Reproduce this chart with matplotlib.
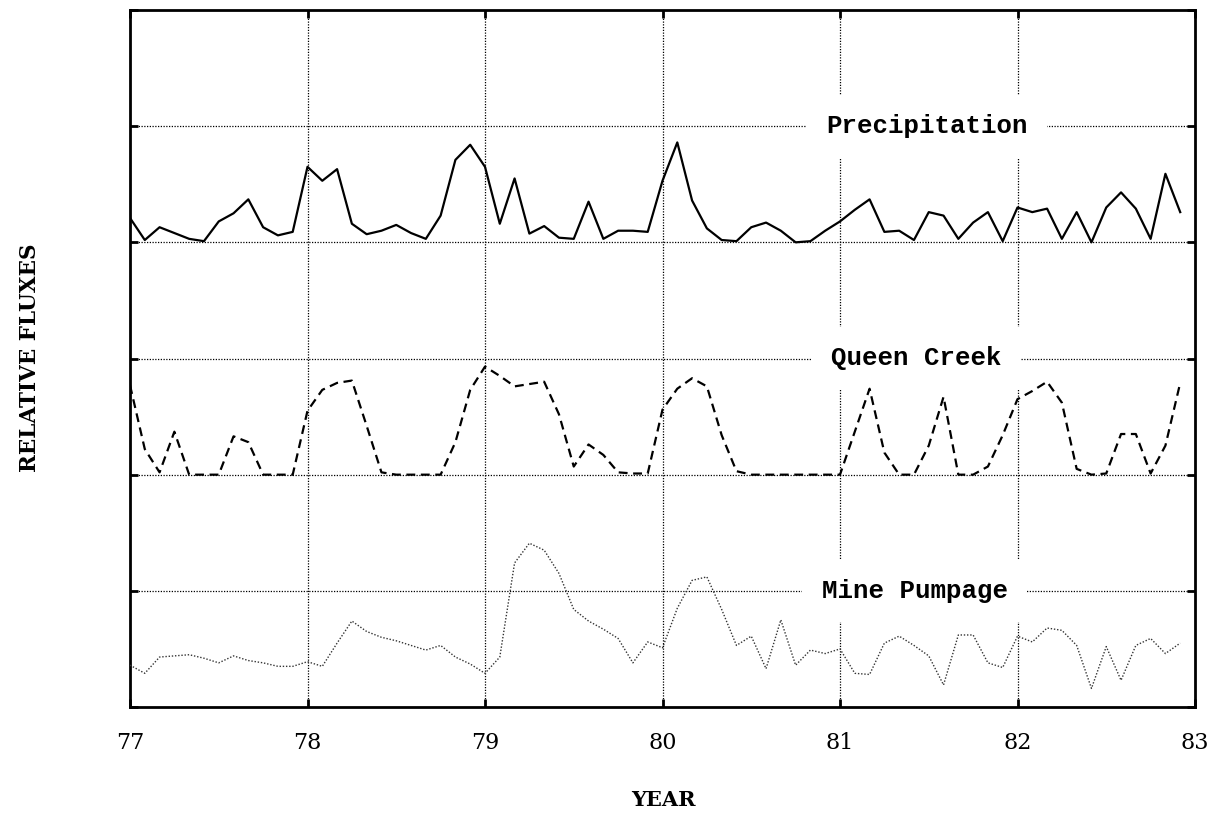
import numpy as np
import matplotlib
matplotlib.use("Agg")
import matplotlib.pyplot as plt

# Monthly values, Jan 1977 - Dec 1982 (normalised to band height)
years = 77 + np.arange(72) / 12.0

precipitation = [0.21, 0.02, 0.13, 0.08, 0.03, 0.01, 0.18, 0.25, 0.37, 0.13, 0.06, 0.09,
                 0.65, 0.53, 0.63, 0.16, 0.07, 0.10, 0.15, 0.08, 0.03, 0.23, 0.71, 0.84,
                 0.65, 0.16, 0.55, 0.075, 0.14, 0.04, 0.03, 0.35, 0.03, 0.10, 0.10, 0.09,
                 0.53, 0.86, 0.36, 0.12, 0.02, 0.01, 0.13, 0.17, 0.10, 0.0, 0.01, 0.10,
                 0.18, 0.28, 0.37, 0.09, 0.10, 0.02, 0.26, 0.23, 0.03, 0.17, 0.26, 0.01,
                 0.30, 0.26, 0.29, 0.03, 0.26, 0.0, 0.30, 0.43, 0.29, 0.03, 0.59, 0.26]

queen_creek = [0.77, 0.22, 0.02, 0.37, 0.0, 0.0, 0.0, 0.33, 0.28, 0.0, 0.0, 0.0,
               0.55, 0.73, 0.79, 0.81, 0.42, 0.02, 0.0, 0.0, 0.0, 0.0, 0.28, 0.73,
               0.93, 0.85, 0.76, 0.78, 0.80, 0.52, 0.07, 0.26, 0.17, 0.02, 0.01, 0.01,
               0.56, 0.74, 0.83, 0.76, 0.34, 0.03, 0.0, 0.0, 0.0, 0.0, 0.0, 0.0,
               0.0, 0.37, 0.74, 0.19, 0.0, 0.0, 0.25, 0.67, 0.0, 0.0, 0.07, 0.34,
               0.65, 0.72, 0.80, 0.62, 0.05, 0.0, 0.01, 0.35, 0.35, 0.01, 0.25, 0.79]

mine_pumpage = [0.36, 0.29, 0.43, 0.44, 0.45, 0.42, 0.38, 0.44, 0.40, 0.38, 0.35, 0.35,
                0.39, 0.35, 0.55, 0.74, 0.65, 0.60, 0.57, 0.53, 0.49, 0.53, 0.43, 0.37,
                0.29, 0.43, 1.24, 1.41, 1.35, 1.15, 0.84, 0.74, 0.67, 0.59, 0.38, 0.56,
                0.51, 0.85, 1.09, 1.12, 0.84, 0.53, 0.61, 0.33, 0.75, 0.36, 0.49, 0.46,
                0.50, 0.29, 0.28, 0.55, 0.61, 0.53, 0.44, 0.19, 0.62, 0.62, 0.38, 0.34,
                0.61, 0.56, 0.68, 0.66, 0.53, 0.16, 0.52, 0.23, 0.53, 0.59, 0.46, 0.55]

series_names = ["Precipitation", "Queen Creek", "Mine Pumpage"]
series_offsets = [4, 2, 0]
xtick_labels = ["77", "78", "79", "80", "81", "82", "83"]

fig = plt.figure(figsize=(12.17, 8.16), dpi=100)
ax = fig.add_axes([130/1217, 1 - 707/816, (1195-130)/1217, (707-10)/816])

ax.set_xlim(77, 83)
ax.set_ylim(0, 6)

# grid
for gx in range(78, 83):
    ax.axvline(gx, color="black", lw=0.9, ls=(0, (1, 1.2)), zorder=1)
for gy in range(1, 6):
    ax.axhline(gy, color="black", lw=0.9, ls=(0, (1, 1.2)), zorder=1)

ax.plot(years, np.array(precipitation) + series_offsets[0], color="black", lw=1.6,
        ls="-", zorder=3)
ax.plot(years, np.array(queen_creek) + series_offsets[1], color="black", lw=1.6,
        ls=(0, (4, 2.5)), zorder=3)
ax.plot(years, np.array(mine_pumpage) + series_offsets[2], color="#333333", lw=1.0,
        ls=(0, (1, 1.3)), zorder=3)

label_pos = [(81.49, 5.0), (81.43, 3.0), (81.42, 1.0)]
for name, (lx, ly) in zip(series_names, label_pos):
    ax.text(lx, ly, name, family="Liberation Mono", fontweight="bold", fontsize=18.5,
            ha="center", va="center", zorder=2,
            bbox=dict(facecolor="white", edgecolor="none", pad=14))

ax.set_xticks(range(77, 84))
ax.set_xticklabels(xtick_labels, family="DejaVu Serif", fontsize=16)
ax.set_yticks(range(0, 7))
ax.set_yticklabels([])
ax.tick_params(direction="in", length=6, width=2, top=True, right=True, pad=18)

for s in ax.spines.values():
    s.set_linewidth(2)

fig.text(663/1217, 1 - 800/816, "YEAR", family="DejaVu Serif", fontweight="bold",
         fontsize=15, ha="center", va="center")
fig.text(30/1217, 1 - 358/816, "RELATIVE FLUXES", family="DejaVu Serif",
         fontweight="bold", fontsize=15.5, ha="center", va="center", rotation=90)

fig.savefig("out.png", dpi=100)
